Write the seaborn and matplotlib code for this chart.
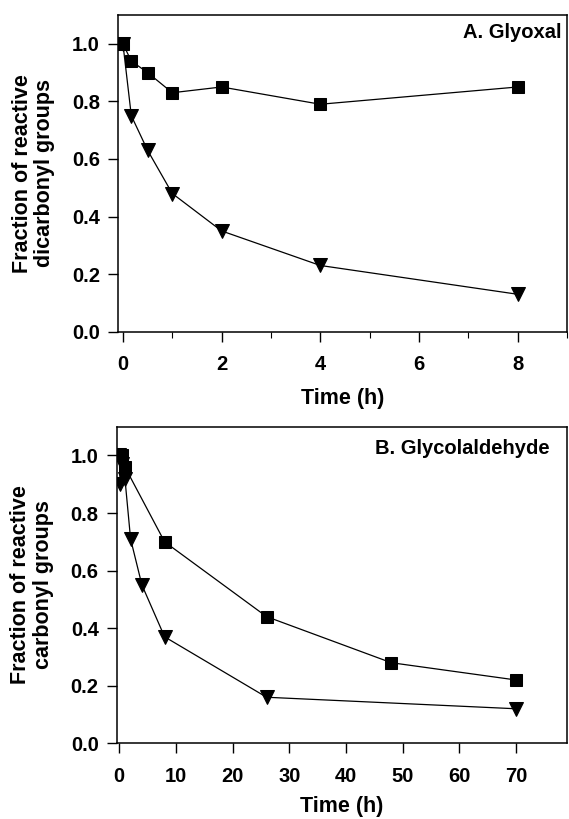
import numpy as np
import pandas as pd
import matplotlib
matplotlib.use("Agg")
import matplotlib.pyplot as plt
from matplotlib.ticker import MultipleLocator
import seaborn as sns

# Panel A: Glyoxal
time_a = [0, 0.17, 0.5, 1, 2, 4, 8]
sq_a = [1.0, 0.94, 0.90, 0.83, 0.85, 0.79, 0.85]
tri_a = [1.0, 0.75, 0.63, 0.48, 0.35, 0.23, 0.13]

# Panel B: Glycolaldehyde
time_b_sq = [0, 0.5, 1, 8, 26, 48, 70]
sq_b = [1.0, 1.0, 0.96, 0.70, 0.44, 0.28, 0.22]
time_b_tri = [0, 0.15, 0.5, 1, 2, 4, 8, 26, 70]
tri_b = [1.0, 0.90, 0.97, 0.92, 0.71, 0.55, 0.37, 0.16, 0.12]

titles = ["A. Glyoxal", "B. Glycolaldehyde"]
ylabels = ["Fraction of reactive\ndicarbonyl groups", "Fraction of reactive\ncarbonyl groups"]
xlabel = "Time (h)"

sns.set_style("ticks")
plt.rcParams['font.family'] = ['Liberation Sans', 'DejaVu Sans']
plt.rcParams['font.weight'] = 'bold'
plt.rcParams['axes.labelweight'] = 'bold'
plt.rcParams['text.color'] = 'black'
plt.rcParams['axes.labelcolor'] = 'black'
plt.rcParams['xtick.color'] = 'black'
plt.rcParams['ytick.color'] = 'black'

fig = plt.figure(figsize=(5.69, 8.19), dpi=100)
W, H = 569, 819
axA = fig.add_axes([118 / W, 1 - 331.7 / H, (567 - 118) / W, (331.7 - 15) / H])
axB = fig.add_axes([116.7 / W, 1 - 743.3 / H, (567 - 116.7) / W, (743.3 - 426.7) / H])

dfA_sq = pd.DataFrame({"t": time_a, "f": sq_a})
dfA_tri = pd.DataFrame({"t": time_a, "f": tri_a})
dfB_sq = pd.DataFrame({"t": time_b_sq, "f": sq_b})
dfB_tri = pd.DataFrame({"t": time_b_tri, "f": tri_b})

line_kw = dict(color="black", linewidth=0.9, markeredgecolor="black", sort=False)
for ax, dsq, dtri in [(axA, dfA_sq, dfA_tri), (axB, dfB_sq, dfB_tri)]:
    sns.lineplot(data=dsq, x="t", y="f", ax=ax, marker="s", markersize=9, **line_kw)
    sns.lineplot(data=dtri, x="t", y="f", ax=ax, marker="v", markersize=10, **line_kw)

axA.set_xlim(-0.1, 9.0)
axB.set_xlim(-0.45, 79)
title_pos = [(0.987, 0.975), (0.962, 0.962)]
xlabel_pads = [10, 7.5]
for ax, title, yl, tp, lp in [(axA, titles[0], ylabels[0], title_pos[0], xlabel_pads[0]),
                              (axB, titles[1], ylabels[1], title_pos[1], xlabel_pads[1])]:
    ax.set_ylim(0, 1.1)
    ax.set_yticks([0.0, 0.2, 0.4, 0.6, 0.8, 1.0])
    ax.set_yticklabels([f"{v:.1f}" for v in [0.0, 0.2, 0.4, 0.6, 0.8, 1.0]])
    ax.set_ylabel(yl, fontsize=15.5, fontweight="bold", linespacing=1.1, color="black")
    ax.yaxis.set_label_coords(-0.14, 0.5)
    ax.set_xlabel(xlabel, fontsize=15.5, fontweight="bold", labelpad=lp, color="black")
    for s in ax.spines.values():
        s.set_visible(True)
        s.set_linewidth(1.1)
        s.set_color("black")
    ax.tick_params(axis="both", which="major", direction="out", length=7, width=1.0,
                   labelsize=14.5, color="black", labelcolor="black")
    ax.tick_params(axis="y", pad=6)
    ax.tick_params(axis="x", pad=10)
    ax.tick_params(which="minor", direction="out", length=4, width=0.8, color="black")
    ax.text(tp[0], tp[1], title, transform=ax.transAxes, ha="right", va="top",
            fontsize=14.5, fontweight="bold", color="black")

axA.set_xticks([0, 2, 4, 6, 8])
axA.xaxis.set_minor_locator(MultipleLocator(1))
axB.set_xticks([0, 10, 20, 30, 40, 50, 60, 70])
for ax in (axA, axB):
    for lab in ax.get_xticklabels() + ax.get_yticklabels():
        lab.set_fontweight("bold")

fig.savefig("out.png", dpi=100)
